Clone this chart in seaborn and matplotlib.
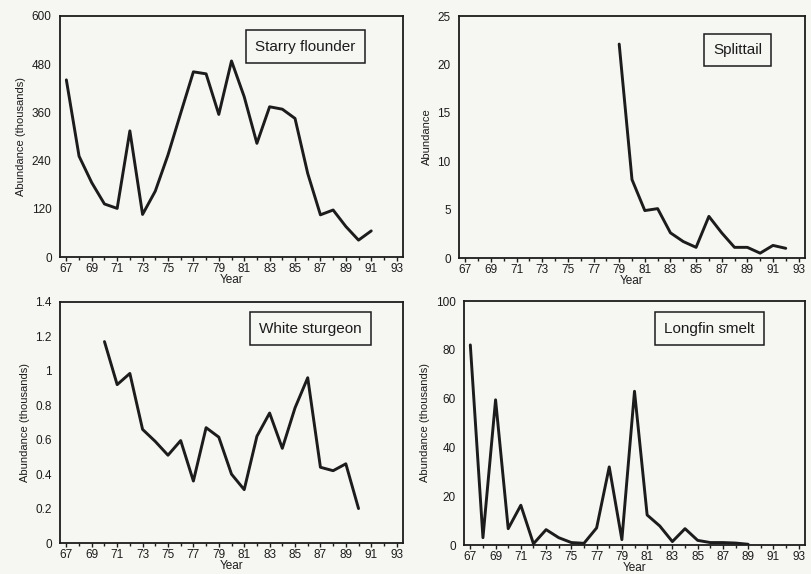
import numpy as np
import pandas as pd
import matplotlib
matplotlib.use("Agg")
import matplotlib.pyplot as plt
import seaborn as sns
from matplotlib.ticker import MultipleLocator, FuncFormatter

# ---- data ----
flounder_years = list(range(67, 92))
flounder_vals = [441, 251, 185, 132, 121, 314, 106, 164, 254, 358, 461, 456,
                 355, 488, 399, 283, 374, 368, 345, 208, 105, 117, 76, 42, 65]

splittail_years = list(range(79, 93))
splittail_vals = [22.1, 8.1, 4.9, 5.1, 2.6, 1.7, 1.1, 4.3, 2.6, 1.1, 1.1, 0.5, 1.3, 1.0]

sturgeon_years = list(range(70, 91))
sturgeon_vals = [1.17, 0.92, 0.985, 0.66, 0.59, 0.51, 0.595, 0.36, 0.67, 0.615,
                 0.40, 0.31, 0.62, 0.755, 0.55, 0.785, 0.96, 0.44, 0.42, 0.46, 0.20]

smelt_years = list(range(67, 90))
smelt_vals = [82, 3, 59.5, 6.7, 16.3, 0.5, 6.3, 3, 1, 0.7, 7, 32, 2.2, 63,
              12.3, 7.8, 1.4, 6.7, 1.9, 1, 1, 0.8, 0.3]

panels = [
    ("Starry flounder", flounder_years, flounder_vals, "Abundance (thousands)", 600, 120),
    ("Splittail", splittail_years, splittail_vals, "Abundance", 25, 5),
    ("White sturgeon", sturgeon_years, sturgeon_vals, "Abundance (thousands)", 1.4, 0.2),
    ("Longfin smelt", smelt_years, smelt_vals, "Abundance (thousands)", 100, 20),
]
box_centers = [(0.715, 0.873), (0.805, 0.86), (0.73, 0.89), (0.72, 0.887)]
year_ticks = list(range(67, 94, 2))

sns.set_style("ticks")
plt.rcParams['font.family'] = ['Liberation Sans', 'DejaVu Sans']

bg = "#f6f6f2"
ink = "#1c1c1c"
fig = plt.figure(figsize=(8.12, 5.74), dpi=100, facecolor=bg)
W, H = 812, 574
rects = [(60, 16, 403, 257), (459, 16, 805, 258), (60, 302, 403, 543), (464, 301, 805, 545)]

for (name, yrs, vals, ylab, ymax, ystep), (l, t, r, b), (bx, by) in zip(panels, rects, box_centers):
    ax = fig.add_axes([l / W, 1 - b / H, (r - l) / W, (b - t) / H])
    ax.set_facecolor(bg)
    df = pd.DataFrame({"Year": yrs, "Abundance": vals})
    sns.lineplot(data=df, x="Year", y="Abundance", ax=ax, color=ink, linewidth=2.1)
    ax.set_xlim(66.5, 93.5)
    ax.set_ylim(0, ymax)
    ax.set_xticks(year_ticks)
    ax.set_xticklabels([str(y) for y in year_ticks])
    ax.xaxis.set_minor_locator(MultipleLocator(1))
    ax.yaxis.set_major_locator(MultipleLocator(ystep))
    ax.yaxis.set_major_formatter(FuncFormatter(lambda v, p: f"{v:g}"))
    ax.tick_params(axis='x', which='major', direction='out', length=3, width=1, labelsize=8.5, pad=1.5, colors=ink)
    ax.tick_params(axis='x', which='minor', direction='out', length=2, width=1, colors=ink)
    ax.tick_params(axis='y', which='major', length=0, labelsize=8.5, pad=6, colors=ink)
    for s in ax.spines.values():
        s.set_visible(True)
        s.set_linewidth(1.3)
        s.set_color(ink)
    ax.set_xlabel("Year", fontsize=8.5, labelpad=-1, color=ink)
    ax.set_ylabel(ylab, fontsize=8, labelpad=4, color=ink)
    ax.text(bx, by, name, transform=ax.transAxes, ha="center", va="center",
            fontsize=11, color=ink,
            bbox=dict(boxstyle="square,pad=0.6", fc=bg, ec=ink, lw=1.1))

fig.savefig("out.png", dpi=100, facecolor=bg)
